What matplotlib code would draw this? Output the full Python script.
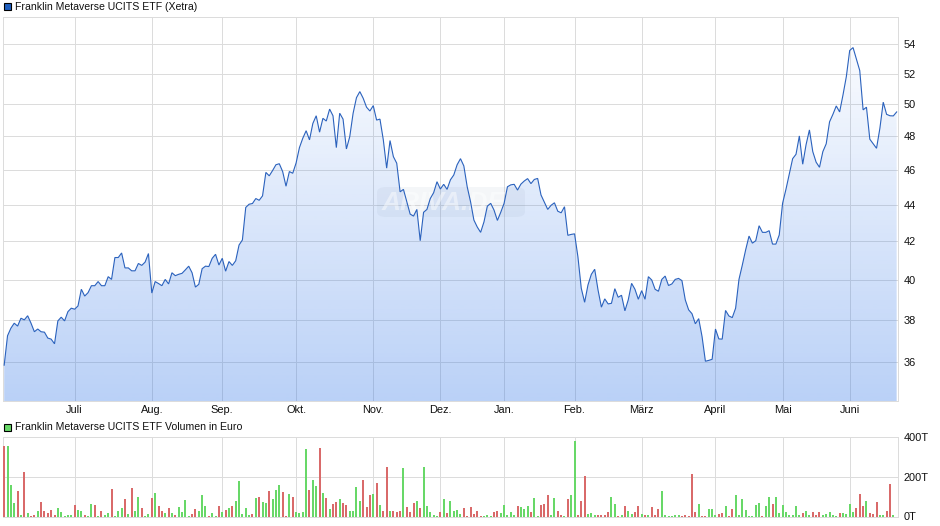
"""Franklin Metaverse UCITS ETF: Kurs (Log-Skala) und Volumen."""
import numpy as np
import matplotlib
matplotlib.use("Agg")
import matplotlib.pyplot as plt
from matplotlib.patches import Polygon, FancyBboxPatch, Rectangle

plt.rcParams["font.family"] = ["Liberation Sans", "DejaVu Sans"]

W, H = 940, 526

price_title = "Franklin Metaverse UCITS ETF (Xetra)"
volume_title = "Franklin Metaverse UCITS ETF Volumen in Euro"

month_labels = ["Juli", "Aug.", "Sep.", "Okt.", "Nov.", "Dez.", "Jan.", "Feb.", "März", "April", "Mai", "Juni"]
month_index = [21, 44, 65, 87, 110, 130, 149, 170, 190, 212, 232, 252]

price_ticks = [36, 38, 40, 42, 44, 46, 48, 50, 52, 54]
volume_ticks = [0, 200, 400]
volume_labels = ["0T", "200T", "400T"]

price = [
    35.87, 37.24, 37.6, 37.84, 37.7, 38.08, 38.0, 38.2, 37.84, 37.43, 37.56, 37.43, 37.41, 37.13, 37.08, 36.86,
    37.95, 38.13, 37.95, 38.4, 38.57, 38.52, 38.68, 39.51, 39.17, 39.34, 39.69, 39.69, 39.9, 39.69, 39.69, 40.15,
    40.01, 41.14, 41.14, 41.38, 40.6, 40.6, 40.45, 40.45, 40.83, 40.73, 40.9, 41.35, 39.32, 39.9, 39.8, 39.69,
    40.01, 39.78, 40.35, 40.2, 40.27, 40.32, 40.5, 40.69, 40.35, 39.62, 39.76, 40.56, 40.69, 40.67, 41.1, 41.31,
    40.75, 41.1, 40.43, 40.93, 40.73, 40.97, 41.8, 42.07, 43.85, 44.03, 44.07, 44.35, 44.25, 44.5, 45.85, 45.65,
    45.96, 46.3, 46.36, 45.9, 45.05, 45.9, 45.8, 46.4,
    47.32, 47.89, 48.35, 47.79, 48.8, 49.28, 48.26, 49.12, 48.95, 49.7, 49.28, 47.32, 49.44, 49.07, 47.24, 47.99,
    49.44, 50.43, 50.82, 50.39, 49.82, 49.58, 49.92, 49.01, 49.07, 47.79, 46.1, 47.75, 46.78, 46.39, 44.73, 44.87,
    44.17, 43.48, 43.37, 43.74, 42.03, 43.58, 43.74, 44.35, 44.68, 45.31, 44.89, 45.16, 44.87, 45.42, 45.7, 46.3,
    46.66, 46.23, 45.02, 44.17, 43.15, 42.77, 42.48, 43.05, 43.92, 44.08, 43.7, 43.13, 43.58, 44.08, 45.02, 45.13,
    45.16, 44.83, 45.17, 45.35, 45.49, 45.2, 45.44, 45.5, 44.55, 44.15, 43.74, 43.97, 44.11, 43.64, 43.55, 43.89,
    42.32, 42.37, 42.4,
    41.18, 39.56, 38.86, 39.73, 40.27, 40.53, 39.47, 38.62, 39.03, 38.78, 38.81, 39.54, 39.11, 39.21, 38.44, 38.98,
    39.81, 39.51, 39.01, 39.44, 39.01, 40.15, 39.98, 39.51, 39.41, 40.01, 40.18, 39.7, 39.78, 40.01, 40.06, 39.95,
    38.98, 38.49, 38.3, 37.81, 38.06, 37.2, 36.05, 36.09, 36.14, 37.56, 37.09, 37.08, 38.46, 38.19, 38.11, 38.57,
    40.01, 40.75, 41.55, 42.28, 41.9, 42.03, 42.84, 42.48, 42.48, 42.57, 41.85, 41.85, 42.34,
    44.08, 44.87, 45.76, 46.66, 46.92, 48.03, 46.33, 47.5, 48.4, 47.08, 46.45, 46.15, 47.08, 47.55, 48.9, 49.37,
    49.9, 49.52, 50.6, 51.8, 53.55, 53.75, 52.97, 52.2, 49.65, 49.82, 47.83, 47.55, 47.28, 48.5, 50.14, 49.37,
    49.28, 49.27, 49.52,
]

# Volumen in Tausend Euro
volume = [
    356, 356, 160, 69, 129, 8, 225, 18, 3, 8,
    29, 74, 29, 18, 34, 8, 44, 24, 1, 8,
    8, 59, 34, 29, 8, 3, 64, 59, 3, 29,
    8, 18, 139, 3, 29, 44, 89, 13, 144, 29,
    99, 44, 3, 13, 94, 119, 54, 29, 18, 44,
    18, 8, 49, 24, 84, 3, 13, 39, 29, 109,
    54, 3, 18, 1, 54, 24, 34, 44, 54, 79,
    180, 13, 44, 8, 13, 94, 99, 74, 69, 129,
    89, 134, 160, 124, 3, 114, 99, 24, 18, 24,
    341, 134, 185, 155, 346,
    119, 94, 39, 64, 74, 89, 69, 59, 29, 29,
    150, 79, 185, 49, 109, 114, 170, 59, 29, 250,
    29, 29, 24, 29, 245, 49, 24, 69, 79, 44,
    250, 54, 24, 8, 3, 24, 89, 18, 79, 29,
    34, 13, 44, 3, 49, 13, 29, 3, 3, 8,
    3, 24, 29, 18, 59, 8, 24, 8, 54, 49,
    39, 54, 24, 94, 3, 59, 64, 109, 8, 94,
    29, 8, 3, 89, 109, 381, 8, 79, 205, 13,
    18, 8, 8, 8, 8, 24, 99, 64, 3, 8,
    54, 29,
    13, 24, 54, 13, 8, 8, 49, 8, 39, 129,
    8, 1, 3, 8, 8, 3, 8, 3, 215, 24,
    64, 3, 3, 39, 39, 8, 13, 18, 54, 3,
    39, 109, 8, 89, 34, 3, 1, 59, 69, 3,
    54, 99, 64, 99, 18, 59, 24, 8, 8, 54,
    8, 18, 29, 8, 24, 8, 24, 8, 13, 24,
    8, 3, 18, 18, 13, 64, 24, 44, 114, 54,
    79, 18, 13, 74, 8, 8, 29, 165, 8,
]

# 1 = gruen, 0 = rot, Tag fuer Tag wie volume
volume_up = [
    0, 1, 1, 1, 0, 1, 0, 1, 0, 0,
    1, 0, 0, 0, 0, 0, 1, 1, 1, 1,
    1, 0, 1, 1, 0, 1, 1, 0, 1, 0,
    1, 1, 0, 1, 1, 1, 0, 1, 0, 1,
    1, 0, 1, 1, 0, 1, 0, 0, 1, 0,
    1, 0, 1, 1, 1, 1, 0, 0, 1, 1,
    1, 0, 1, 1, 0, 1, 0, 1, 0, 1,
    1, 1, 1, 1, 0, 1, 0, 1, 1, 0,
    1, 1, 1, 0, 0, 1, 0, 1, 1, 1,
    1, 0, 1, 1, 0,
    1, 0, 1, 0, 0, 1, 0, 0, 1, 1,
    1, 1, 0, 0, 0, 1, 0, 1, 0, 0,
    1, 0, 0, 0, 1, 0, 0, 0, 1, 0,
    1, 1, 1, 1, 1, 0, 1, 0, 1, 1,
    1, 1, 0, 0, 0, 0, 0, 0, 1, 1,
    1, 0, 0, 1, 1, 1, 1, 1, 0, 1,
    1, 1, 0, 1, 1, 0, 0, 0, 1, 1,
    0, 0, 1, 0, 1, 1, 0, 0, 0, 1,
    1, 1, 0, 0, 0, 0, 1, 1, 0, 1,
    0, 1,
    1, 0, 0, 1, 0, 1, 0, 0, 0, 1,
    1, 1, 1, 1, 1, 0, 0, 0, 0, 0,
    1, 0, 0, 1, 1, 1, 0, 0, 1, 0,
    0, 1, 1, 1, 1, 1, 1, 1, 1, 0,
    1, 1, 0, 1, 1, 1, 1, 1, 1, 1,
    1, 0, 1, 1, 0, 0, 0, 1, 1, 1,
    1, 1, 0, 1, 1, 1, 1, 0, 0, 0,
    1, 0, 0, 0, 1, 1, 0, 0, 1,
]

GRID = "#dcdcdc"
LINE = "#2b62bd"
UP = "#68d868"
DOWN = "#d96a6a"
TEXT_PT = 7.6
TICK_PT = 7.9
PX = 72 / 100  # ein Pixel in Punkt


def axes_px(left, top, right, bottom):
    return [left / W, 1 - bottom / H, (right - left) / W, (bottom - top) / H]


def style_axes(ax):
    for s in ax.spines.values():
        s.set_color(GRID)
        s.set_linewidth(PX)
    ax.grid(True, color=GRID, linewidth=PX)
    ax.set_axisbelow(True)
    ax.yaxis.tick_right()
    ax.tick_params(length=0, labelsize=TICK_PT, labelcolor="#111111")


n = len(price)
xs = np.arange(n)
xlim = (-0.35, n - 1 + 0.25)

fig = plt.figure(figsize=(W / 100, H / 100), dpi=100, facecolor="white")

# Kursbereich
ax = fig.add_axes(axes_px(3, 16.5, 897.5, 401))
style_axes(ax)
ax.set_yscale("log")
ymin, ymax = 34.27, 55.92
ax.set_xlim(*xlim)
ax.set_ylim(ymin, ymax)
ax.autoscale(False)

# Verlauf mit Alpha, damit das Gitter durchscheint
alpha = np.linspace(0.0, 0.34, 256)
grad = np.zeros((256, 1, 4))
grad[..., 0] = 0.2
grad[..., 1] = 0.47
grad[..., 2] = 0.91
grad[..., 3] = alpha[:, None]
im = ax.imshow(grad, extent=(0, 1, 0, 1), transform=ax.transAxes, aspect="auto", origin="upper",
               interpolation="bilinear", zorder=1.5)
area = Polygon(np.column_stack([np.r_[xs[0], xs, xs[-1]], np.r_[ymin, price, ymin]]),
               closed=True, facecolor="none", edgecolor="none", zorder=1.4)
ax.add_patch(area)
im.set_clip_path(area)
ax.plot(xs, price, color=LINE, linewidth=0.8, zorder=3, solid_joinstyle="miter")

ax.set_yticks(price_ticks)
ax.set_yticklabels([str(t) for t in price_ticks])
ax.yaxis.set_minor_locator(matplotlib.ticker.NullLocator())
ax.set_xticks(month_index)
ax.set_xticklabels(month_labels)
ax.tick_params(axis="x", pad=3)
ax.tick_params(axis="y", pad=4.2)

# Wasserzeichen, unter der Kurslinie
ax.add_patch(FancyBboxPatch((377 / W, 1 - 217 / H), 148 / W, 30 / H, boxstyle="round,pad=0,rounding_size=0.01",
                            transform=fig.transFigure, facecolor="#7f8fa8", edgecolor="none", alpha=0.08, zorder=2))
ax.text(444 / W, 1 - 203 / H, "ARIVA.DE", transform=fig.transFigure, color="white", alpha=0.45, fontsize=19,
        fontweight="bold", fontstyle="italic", ha="center", va="center", zorder=2.5, clip_on=False)

# Volumen: feste 2 Pixel breite Balken
vx = fig.add_axes(axes_px(3, 437.3, 897.5, 516.5))
style_axes(vx)
m = min(len(volume), n)
colors = [UP if u else DOWN for u in volume_up[:m]]
bars = vx.vlines(xs[:m], 0, volume[:m], colors=colors, linewidth=2 * PX, zorder=3)
bars.set_snap(True)
bars.set_capstyle("butt")
vx.set_xlim(*xlim)
vx.set_ylim(0, 400)
vx.set_yticks(volume_ticks)
vx.set_yticklabels(volume_labels)
vx.set_xticks(month_index)
vx.tick_params(axis="x", labelbottom=False)
vx.tick_params(axis="y", pad=4.2)

# Legendenkaestchen und Titel
for top_px, color, label in [(3, "#1f5fbf", price_title), (424, UP, volume_title)]:
    fig.add_artist(Rectangle((3.5 / W, 1 - (top_px + 7) / H), 7 / W, 7 / H, transform=fig.transFigure,
                             facecolor=color, edgecolor="black", linewidth=0.8))
    fig.text(15 / W, 1 - (top_px + 3.5) / H, label, fontsize=TEXT_PT, color="#111111", va="center", ha="left")

fig.savefig("out.png", dpi=100)
plt.close(fig)
